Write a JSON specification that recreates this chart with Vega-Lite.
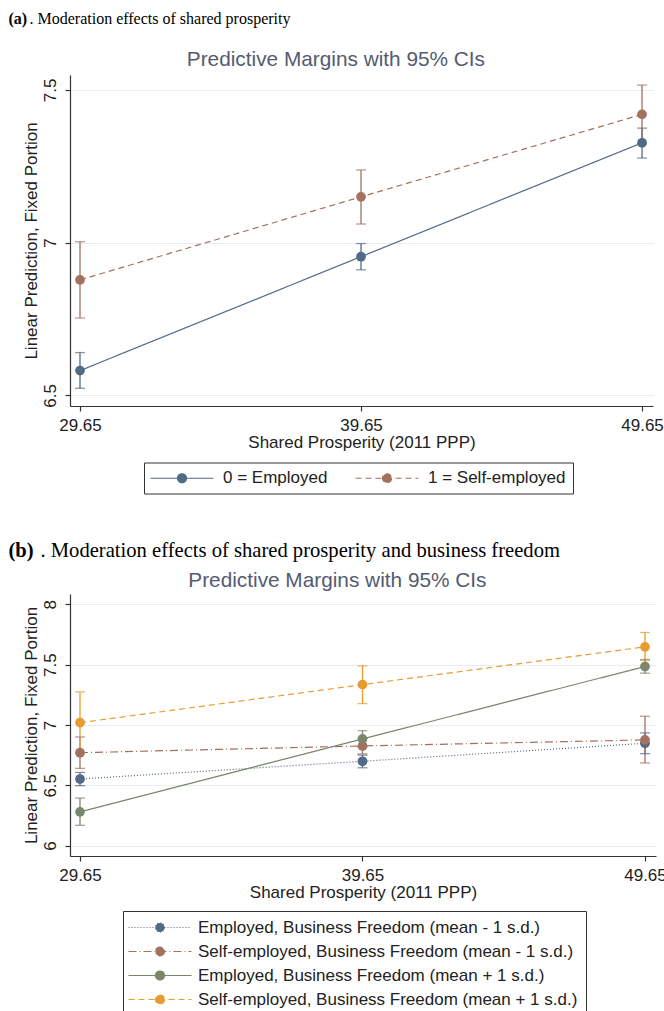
{
  "$schema": "https://vega.github.io/schema/vega-lite/v6.json",
  "background": "white",
  "padding": {"left": 8, "top": 11, "right": 5, "bottom": 0},
  "config": {
    "font": "Liberation Sans",
    "view": {"stroke": null},
    "concat": {"spacing": 47},
    "axis": {"domainColor": "#333333", "tickColor": "#333333", "labelColor": "#222222", "titleColor": "#222222", "labelFont": "Liberation Sans", "titleFont": "Liberation Sans", "labelFontSize": 17, "titleFontSize": 17, "titleFontWeight": "normal", "tickSize": 5, "domainWidth": 1.2, "tickWidth": 1.2, "labelFlush": false},
    "axisX": {"grid": false, "labelPadding": 6, "titlePadding": 1},
    "axisY": {"gridColor": "#e6edf3", "gridWidth": 1.2, "labelAngle": -90, "labelPadding": 6, "titlePadding": 0.5, "format": "~g"},
    "legend": {"labelFont": "Liberation Sans", "labelFontSize": 17, "labelColor": "#222222", "strokeColor": "#333333", "padding": 7, "symbolStrokeWidth": 1.2, "labelLimit": 500, "symbolType": "M-6.3,0L6.3,0M0.9,0A0.9,0.9,0,1,1,-0.9,0A0.9,0.9,0,1,1,0.9,0", "symbolSize": 100, "symbolOffset": 22.5, "labelOffset": 29.5},
    "title": {"font": "Liberation Sans", "fontWeight": "normal"}
  },
  "datasets": {
    "a": [
      {"group": "0 = Employed", "x": 29.65, "y": 6.581, "lo": 6.523, "hi": 6.640},
      {"group": "0 = Employed", "x": 39.65, "y": 6.954, "lo": 6.911, "hi": 6.997},
      {"group": "0 = Employed", "x": 49.65, "y": 7.327, "lo": 7.277, "hi": 7.375},
      {"group": "1 = Self-employed", "x": 29.65, "y": 6.878, "lo": 6.753, "hi": 7.003},
      {"group": "1 = Self-employed", "x": 39.65, "y": 7.150, "lo": 7.061, "hi": 7.238},
      {"group": "1 = Self-employed", "x": 49.65, "y": 7.420, "lo": 7.324, "hi": 7.516}
    ],
    "b": [
      {"group": "Employed, Business Freedom (mean - 1 s.d.)", "x": 29.65, "y": 6.552, "lo": 6.497, "hi": 6.607},
      {"group": "Employed, Business Freedom (mean - 1 s.d.)", "x": 39.65, "y": 6.699, "lo": 6.645, "hi": 6.750},
      {"group": "Employed, Business Freedom (mean - 1 s.d.)", "x": 49.65, "y": 6.848, "lo": 6.762, "hi": 6.934},
      {"group": "Self-employed, Business Freedom (mean - 1 s.d.)", "x": 29.65, "y": 6.770, "lo": 6.640, "hi": 6.900},
      {"group": "Self-employed, Business Freedom (mean - 1 s.d.)", "x": 39.65, "y": 6.826, "lo": 6.760, "hi": 6.892},
      {"group": "Self-employed, Business Freedom (mean - 1 s.d.)", "x": 49.65, "y": 6.876, "lo": 6.685, "hi": 7.072},
      {"group": "Employed, Business Freedom (mean + 1 s.d.)", "x": 29.65, "y": 6.280, "lo": 6.168, "hi": 6.394},
      {"group": "Employed, Business Freedom (mean + 1 s.d.)", "x": 39.65, "y": 6.884, "lo": 6.815, "hi": 6.953},
      {"group": "Employed, Business Freedom (mean + 1 s.d.)", "x": 49.65, "y": 7.484, "lo": 7.429, "hi": 7.542},
      {"group": "Self-employed, Business Freedom (mean + 1 s.d.)", "x": 29.65, "y": 7.019, "lo": 6.765, "hi": 7.274},
      {"group": "Self-employed, Business Freedom (mean + 1 s.d.)", "x": 39.65, "y": 7.334, "lo": 7.177, "hi": 7.490},
      {"group": "Self-employed, Business Freedom (mean + 1 s.d.)", "x": 49.65, "y": 7.647, "lo": 7.534, "hi": 7.766}
    ]
  },
  "vconcat": [
    {
      "title": {"text": "(a)", "anchor": "start", "frame": "bounds", "font": "Liberation Serif", "fontSize": 16, "fontWeight": "bold", "color": "#000000", "offset": -16, "dx": -14},
      "vconcat": [
        {
          "title": {"text": ". Moderation effects of shared prosperity", "anchor": "start", "frame": "bounds", "font": "Liberation Serif", "fontSize": 16, "fontWeight": "normal", "color": "#000000", "offset": 21.5, "dx": 7},
          "vconcat": [
            {
              "width": 583, "height": 331,
              "title": {"text": "Predictive Margins with 95% CIs", "anchor": "middle", "frame": "bounds", "fontSize": 20.8, "color": "#545b70", "offset": 4.5, "dx": -7},
              "data": {"name": "a"},
              "encoding": {
                "x": {"field": "x", "type": "quantitative", "title": "Shared Prosperity (2011 PPP)", "scale": {"domain": [29.294, 50.04], "nice": false, "zero": false}, "axis": {"values": [29.65, 39.65, 49.65], "format": ".2f"}},
                "color": {"field": "group", "type": "nominal", "scale": {"domain": ["0 = Employed", "1 = Self-employed"], "range": ["#536a86", "#a4705f"]},
                  "legend": {"title": null, "orient": "none", "legendX": 74, "legendY": 387.5, "direction": "horizontal", "columnPadding": 25, "labelOffset": 32.5,
                    "encode": {"symbols": {"update": {"fill": {"signal": "datum.value === '0 = Employed' ? '#536a86' : '#a4705f'"}}}}}}
              },
              "layer": [
                {"mark": {"type": "rule", "strokeWidth": 1.3},
                 "encoding": {
                   "y": {"field": "lo", "type": "quantitative", "title": "Linear Prediction, Fixed Portion", "scale": {"domain": [6.465, 7.549], "nice": false, "zero": false}, "axis": {"values": [6.5, 7, 7.5]}},
                   "y2": {"field": "hi"}}},
                {"mark": {"type": "tick", "orient": "horizontal", "size": 10, "thickness": 1.3},
                 "encoding": {
                   "y": {"field": "lo", "type": "quantitative", "title": "Linear Prediction, Fixed Portion", "scale": {"domain": [6.465, 7.549], "nice": false, "zero": false}, "axis": {"values": [6.5, 7, 7.5]}}}},
                {"mark": {"type": "tick", "orient": "horizontal", "size": 10, "thickness": 1.3},
                 "encoding": {
                   "y": {"field": "hi", "type": "quantitative", "title": "Linear Prediction, Fixed Portion", "scale": {"domain": [6.465, 7.549], "nice": false, "zero": false}, "axis": {"values": [6.5, 7, 7.5]}}}},
                {"mark": {"type": "line", "strokeWidth": 1.2},
                 "encoding": {
                   "y": {"field": "y", "type": "quantitative", "title": "Linear Prediction, Fixed Portion", "scale": {"domain": [6.465, 7.549], "nice": false, "zero": false}, "axis": {"values": [6.5, 7, 7.5]}},
                   "strokeDash": {"field": "group", "type": "nominal", "scale": {"domain": ["0 = Employed", "1 = Self-employed"], "range": [[1, 0], [6, 4]]},
                     "legend": {"title": null, "orient": "none", "legendX": 74, "legendY": 387.5, "direction": "horizontal", "columnPadding": 25, "labelOffset": 32.5}}}},
                {"mark": {"type": "point", "filled": true, "size": 95, "opacity": 1},
                 "encoding": {
                   "y": {"field": "y", "type": "quantitative", "title": "Linear Prediction, Fixed Portion", "scale": {"domain": [6.465, 7.549], "nice": false, "zero": false}, "axis": {"values": [6.5, 7, 7.5]}}}}
              ]
            }
          ]
        }
      ]
    },
    {
      "title": {"text": "(b)", "anchor": "start", "frame": "bounds", "font": "Liberation Serif", "fontSize": 20.6, "fontWeight": "bold", "color": "#000000", "offset": -20.6, "dx": -14},
      "vconcat": [
        {
          "title": {"text": ". Moderation effects of shared prosperity and business freedom", "anchor": "start", "frame": "bounds", "font": "Liberation Serif", "fontSize": 20.6, "fontWeight": "normal", "color": "#000000", "offset": 8, "dx": 18},
          "vconcat": [
            {
              "width": 586, "height": 262,
              "title": {"text": "Predictive Margins with 95% CIs", "anchor": "middle", "frame": "bounds", "fontSize": 20.8, "color": "#545b70", "offset": 2.6, "dx": -7},
              "data": {"name": "b"},
              "encoding": {
                "x": {"field": "x", "type": "quantitative", "title": "Shared Prosperity (2011 PPP)", "scale": {"domain": [29.296, 50.04], "nice": false, "zero": false}, "axis": {"values": [29.65, 39.65, 49.65], "format": ".2f"}},
                "color": {"field": "group", "type": "nominal", "scale": {"domain": ["Employed, Business Freedom (mean - 1 s.d.)", "Self-employed, Business Freedom (mean - 1 s.d.)", "Employed, Business Freedom (mean + 1 s.d.)", "Self-employed, Business Freedom (mean + 1 s.d.)"], "range": ["#536a86", "#a4705f", "#7b876c", "#e89b2f"]},
                  "legend": {"title": null, "orient": "none", "legendX": 53, "legendY": 317, "direction": "vertical", "padding": 8, "rowPadding": 6, "symbolOffset": 20.5,
                    "encode": {"symbols": {"update": {"fill": {"signal": "indexof(datum.value, 'Self-employed') === 0 ? (indexof(datum.value, '+') > 0 ? '#e89b2f' : '#a4705f') : (indexof(datum.value, '+') > 0 ? '#7b876c' : '#536a86')"}}}}}}
              },
              "layer": [
                {"mark": {"type": "rule", "strokeWidth": 1.3},
                 "encoding": {
                   "y": {"field": "lo", "type": "quantitative", "title": "Linear Prediction, Fixed Portion", "scale": {"domain": [5.914, 8.085], "nice": false, "zero": false}, "axis": {"values": [6, 6.5, 7, 7.5, 8]}},
                   "y2": {"field": "hi"}}},
                {"mark": {"type": "tick", "orient": "horizontal", "size": 10, "thickness": 1.3},
                 "encoding": {
                   "y": {"field": "lo", "type": "quantitative", "title": "Linear Prediction, Fixed Portion", "scale": {"domain": [5.914, 8.085], "nice": false, "zero": false}, "axis": {"values": [6, 6.5, 7, 7.5, 8]}}}},
                {"mark": {"type": "tick", "orient": "horizontal", "size": 10, "thickness": 1.3},
                 "encoding": {
                   "y": {"field": "hi", "type": "quantitative", "title": "Linear Prediction, Fixed Portion", "scale": {"domain": [5.914, 8.085], "nice": false, "zero": false}, "axis": {"values": [6, 6.5, 7, 7.5, 8]}}}},
                {"mark": {"type": "line", "strokeWidth": 1.2},
                 "encoding": {
                   "y": {"field": "y", "type": "quantitative", "title": "Linear Prediction, Fixed Portion", "scale": {"domain": [5.914, 8.085], "nice": false, "zero": false}, "axis": {"values": [6, 6.5, 7, 7.5, 8]}},
                   "strokeDash": {"field": "group", "type": "nominal", "scale": {"domain": ["Employed, Business Freedom (mean - 1 s.d.)", "Self-employed, Business Freedom (mean - 1 s.d.)", "Employed, Business Freedom (mean + 1 s.d.)", "Self-employed, Business Freedom (mean + 1 s.d.)"], "range": [[1, 2], [8, 3, 1, 3], [1, 0], [6, 4]]},
                     "legend": {"title": null, "orient": "none", "legendX": 53, "legendY": 317, "direction": "vertical", "padding": 8, "rowPadding": 6, "symbolOffset": 20.5}}}},
                {"mark": {"type": "point", "filled": true, "size": 95, "opacity": 1},
                 "encoding": {
                   "y": {"field": "y", "type": "quantitative", "title": "Linear Prediction, Fixed Portion", "scale": {"domain": [5.914, 8.085], "nice": false, "zero": false}, "axis": {"values": [6, 6.5, 7, 7.5, 8]}}}}
              ]
            }
          ]
        }
      ]
    }
  ],
  "resolve": {"scale": {"x": "independent", "y": "independent", "color": "independent", "strokeDash": "independent"}, "legend": {"color": "independent", "strokeDash": "independent"}}
}
